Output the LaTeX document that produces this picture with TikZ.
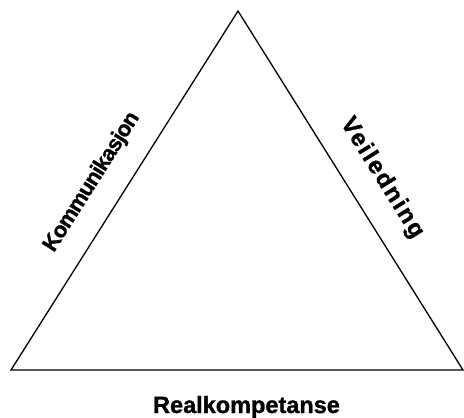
\documentclass[tikz,border=0pt]{standalone}
\usepackage{fontspec}
\setmainfont{Liberation Sans}[BoldFeatures={FakeBold=1.2}]
\begin{document}
\begin{tikzpicture}[x=1pt,y=-1pt,
  edge/.style={draw=black, line width=1.3pt, line join=miter},
  sidelabel/.style={font=\fontsize{22}{25}\selectfont\bfseries, inner sep=0pt},
  baselabel/.style={font=\fontsize{23.5}{26}\selectfont\bfseries, inner sep=0pt, anchor=base}]
  \useasboundingbox (0,0) rectangle (464,418);
  % corners of the triangle
  \coordinate (top) at (238,11);
  \coordinate (bl) at (11,370);
  \coordinate (br) at (463,370);
  \draw[edge] (top) -- (bl) -- (br) -- cycle;
  % labels along the sides
  \node[sidelabel, rotate=57.7] (komm) at (92,182) {\addfontfeature{LetterSpace=-4}Kommunikasjon};
  \node[sidelabel, rotate=-58, font=\fontsize{24}{27}\selectfont\bfseries] (veil) at (382,178) {\addfontfeature{LetterSpace=8}Veiledning};
  \node[baselabel] (real) at (246.5,413) {Realkompetanse};
\end{tikzpicture}
\end{document}
